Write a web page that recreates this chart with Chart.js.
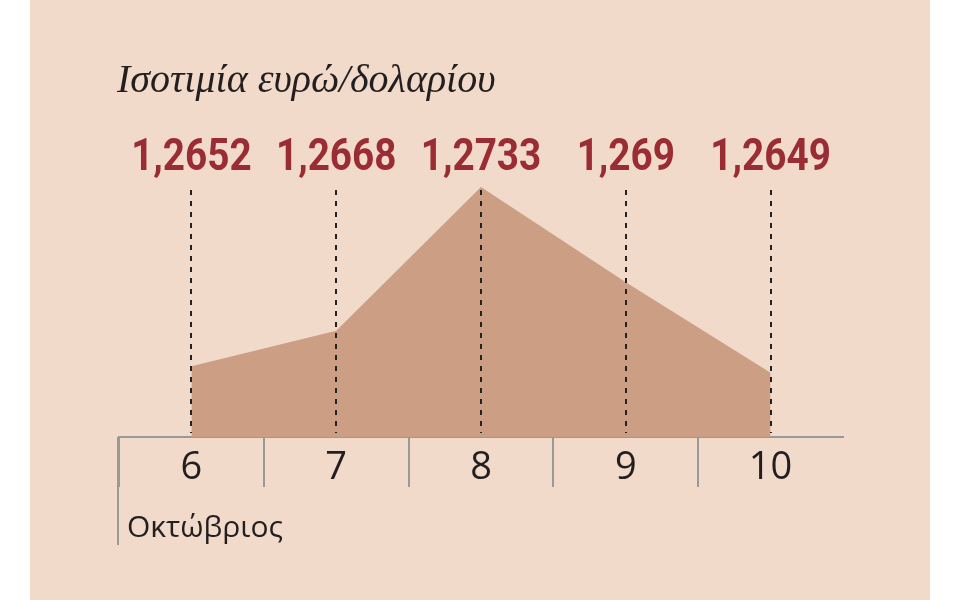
<!DOCTYPE html>
<html>
<head>
<meta charset="utf-8">
<script src="https://cdn.jsdelivr.net/npm/chart.js@4/dist/chart.umd.min.js"></script>
<style>
  html, body { margin: 0; padding: 0; background: #ffffff; }
  #panel { position: absolute; left: 30px; top: 0; width: 900px; height: 600px; background: #f2dacb; }
  #wrap { position: absolute; left: 0; top: 0; width: 960px; height: 600px; }
</style>
</head>
<body>
<div id="panel"></div>
<div id="wrap"><canvas id="line-chart" width="960" height="600"></canvas></div>
<script>
  // Ισοτιμία ευρώ/δολαρίου, Οκτώβριος
  var titlos = "Ισοτιμία ευρώ/δολαρίου";
  var minas = "Οκτώβριος";
  var meres = ["6", "7", "8", "9", "10"];
  var isotimia = [1.2652, 1.2668, 1.2733, 1.269, 1.2649];
  var etiketes = ["1,2652", "1,2668", "1,2733", "1,269", "1,2649"];

  var grammiGkri = "#999999";

  // titlos, times pano apo kathe simeio, diakekommenes grammes
  var keimenaPlugin = {
    id: 'keimena',
    afterDatasetsDraw: function(chart) {
      var ctx = chart.ctx;
      var area = chart.chartArea;
      var meta = chart.getDatasetMeta(0);
      ctx.save();

      // diakekommenes
      ctx.strokeStyle = "#222222";
      ctx.lineWidth = 2;
      ctx.setLineDash([5, 6]);
      meta.data.forEach(function(p) {
        ctx.beginPath();
        ctx.moveTo(Math.round(p.x), area.top + 3);
        ctx.lineTo(Math.round(p.x), area.bottom - 4);
        ctx.stroke();
      });
      ctx.setLineDash([]);

      // times (stenemena orizontia)
      ctx.fillStyle = "#9a2d33";
      ctx.font = "bold 45px Roboto, 'DejaVu Sans', sans-serif";
      ctx.textAlign = "center";
      ctx.textBaseline = "middle";
      meta.data.forEach(function(p, i) {
        ctx.save();
        ctx.translate(p.x, area.top - 28);
        ctx.scale(0.86, 1);
        ctx.fillText(etiketes[i], 0, 0);
        ctx.restore();
      });

      // titlos
      ctx.fillStyle = "#231f20";
      ctx.font = "italic 40px 'Liberation Serif', 'DejaVu Serif', serif";
      ctx.textAlign = "left";
      ctx.textBaseline = "alphabetic";
      ctx.fillText(titlos, area.left - 2, 92);

      // minas + grammi aristera
      var x = chart.scales.x;
      ctx.strokeStyle = grammiGkri;
      ctx.lineWidth = 2;
      ctx.beginPath();
      ctx.moveTo(x.left - 1, x.top);
      ctx.lineTo(x.left - 1, x.top + 108);
      ctx.stroke();

      ctx.fillStyle = "#231f20";
      ctx.font = "30px 'Open Sans', sans-serif";
      ctx.fillText(minas, x.left + 8, x.top + 100);
      ctx.restore();
    }
  };

  var mChart = new Chart(document.getElementById("line-chart"), {
    type: 'line',
    data: {
      labels: meres,
      datasets: [{
        data: isotimia,
        backgroundColor: "#cc9f85",
        borderWidth: 0,
        pointRadius: 0,
        tension: 0,
        fill: 'start'
      }]
    },
    options: {
      responsive: false,
      animation: false,
      layout: { padding: { left: 119, right: 117, top: 187, bottom: 0 } },
      plugins: {
        legend: { display: false },
        title: { display: false },
        tooltip: { enabled: false }
      },
      scales: {
        x: {
          offset: true,
          afterFit: function(s) { s.height = 163; },
          grid: {
            offset: true,
            drawOnChartArea: false,
            drawTicks: true,
            tickLength: 50,
            lineWidth: 2,
            color: function(c) {
              return (c.type === 'tick' && c.index < meres.length) ? grammiGkri : 'rgba(0,0,0,0)';
            }
          },
          border: { display: true, color: grammiGkri, width: 2 },
          ticks: {
            color: "#231f20",
            font: { family: "'Open Sans', sans-serif", size: 38 },
            padding: -42,
            maxRotation: 0
          }
        },
        y: {
          display: false,
          min: 1.262,
          max: 1.2733
        }
      }
    },
    plugins: [keimenaPlugin]
  });
</script>
</body>
</html>
